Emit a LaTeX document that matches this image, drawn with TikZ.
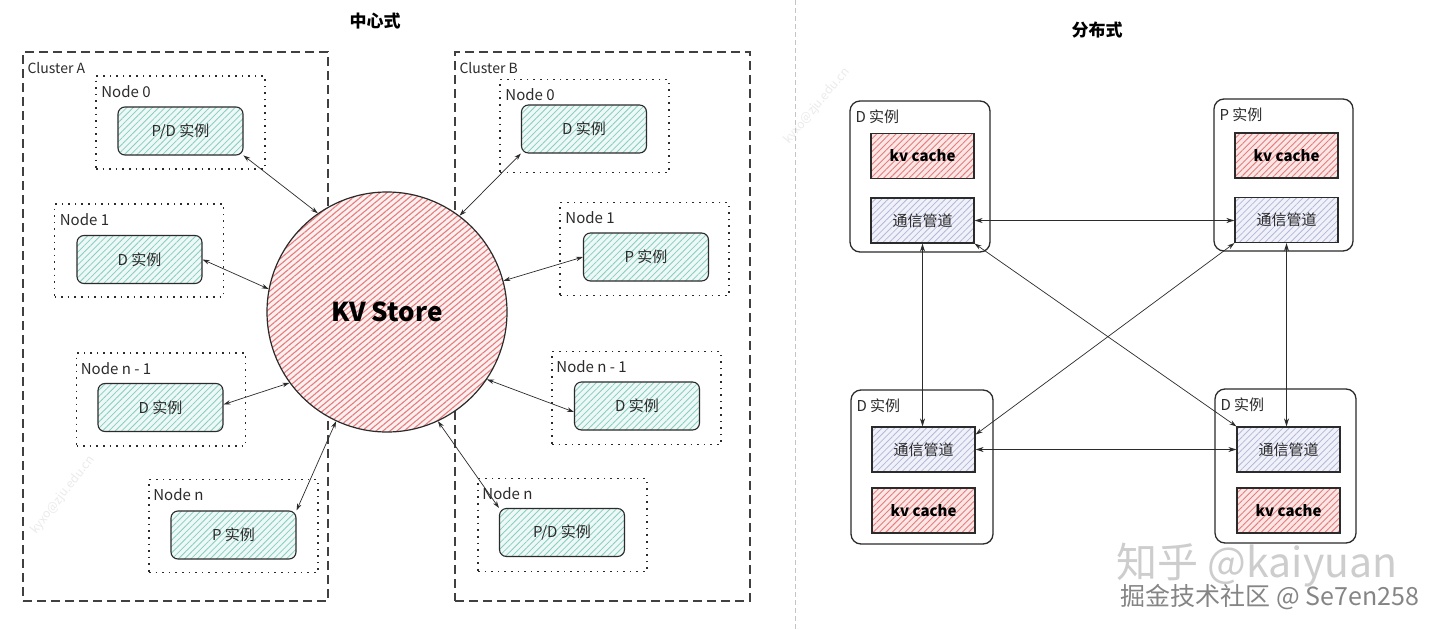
\documentclass[tikz,border=0pt]{standalone}
\usepackage{fontspec}
\setmainfont{Noto Sans CJK SC}
\usetikzlibrary{patterns.meta,arrows.meta}
\definecolor{tealfill}{HTML}{EEF8F6}
\definecolor{tealline}{HTML}{86CFC0}
\definecolor{redfill}{HTML}{FDF0F0}
\definecolor{redline}{HTML}{E67C7C}
\definecolor{kvfill}{HTML}{FBE6E6}
\definecolor{bluefill}{HTML}{F1F2F9}
\definecolor{blueline}{HTML}{B3B8D8}
\definecolor{ink}{HTML}{2B2B2B}
\definecolor{sepgray}{HTML}{C4C4C4}
\definecolor{wmgray}{HTML}{CDCDCD}
\definecolor{wmdark}{HTML}{858585}
\definecolor{faint}{HTML}{EBEBEB}
\begin{document}
\begin{tikzpicture}[x=1pt,y=-1pt,
  every node/.style={font=\fontsize{15}{18}\selectfont, text=ink},
  cluster/.style={draw=ink!90, line width=1.3pt, dash pattern=on 9pt off 5pt},
  nodebox/.style={draw=ink, line width=1.6pt, dash pattern=on 1.6pt off 5pt, minimum width=169pt, minimum height=93pt, inner sep=0},
  inst/.style={draw=ink, line width=1.1pt, rounded corners=7pt, minimum width=125pt, minimum height=48pt, inner sep=0, preaction={fill=tealfill}, pattern={Lines[angle=45,distance=4.5pt,line width=0.8pt]}, pattern color=tealline},
  lbl/.style={anchor=base west, inner sep=0},
  clbl/.style={anchor=base west, inner sep=0, font=\fontsize{14}{17}\selectfont},
  bi/.style={{Stealth[length=7pt,width=4.5pt]}-{Stealth[length=7pt,width=4.5pt]}, line width=0.7pt, draw=ink},
  outerbox/.style={draw=ink, line width=1.3pt, rounded corners=10pt, inner sep=0},
  kvbox/.style={draw=ink, line width=1.2pt, minimum width=103pt, minimum height=45pt, inner sep=0, preaction={fill=kvfill}, pattern={Lines[angle=45,distance=4.5pt,line width=0.9pt]}, pattern color=redline, font=\bfseries\fontsize{15}{18}\selectfont, text=black},
  chbox/.style={draw=ink, line width=1.2pt, minimum width=103pt, minimum height=45pt, inner sep=0, preaction={fill=bluefill}, pattern={Lines[angle=45,distance=4.5pt,line width=0.8pt]}, pattern color=blueline},
  bi2/.style={{Stealth[length=8pt,width=5pt]}-{Stealth[length=8pt,width=5pt]}, line width=0.9pt, draw=ink},
  title/.style={font=\bfseries\fontsize{17}{20}\selectfont, text=black}
]
\useasboundingbox (0,0) rectangle (1440,629);
\fill[white] (0,0) rectangle (1440,629);

% faint watermarks
\node[rotate=52, text=faint, font=\fontsize{12}{14}\selectfont] (wm1) at (63,495) {kyxo@zju.edu.cn};
\node[rotate=50, text=faint, font=\fontsize{12}{14}\selectfont] (wm2) at (817,106) {kyxo@zju.edu.cn};

% separator
\coordinate (st) at (795,0);
\coordinate (sb) at (795,629);
\draw[sepgray, line width=1pt, dash pattern=on 5pt off 3pt] (st) -- (sb);

% titles
\node[title] (t1) at (375,21) {中心式};
\node[title] (t2) at (1097,30) {分布式};

% clusters
\node[cluster, minimum width=305pt, minimum height=549pt, inner sep=0] (ca) at (175.5,326.5) {};
\node[cluster, minimum width=295pt, minimum height=549pt, inner sep=0] (cb) at (602.5,326.5) {};
\node[clbl] (cal) at ([shift={(5,22)}]ca.north west) {Cluster A};
\node[clbl] (cbl) at ([shift={(5,22)}]cb.north west) {Cluster B};

% KV store
\node[circle, draw=ink, line width=1.2pt, minimum size=240pt, inner sep=0,
  preaction={fill=redfill}, pattern={Lines[angle=40,distance=4.5pt,line width=1.1pt]}, pattern color=redline,
  font=\bfseries\fontsize{26}{30}\selectfont, text=black] (kv) at (387,312) {KV Store};

% cluster A nodes
\node[nodebox] (na0) at (180.5,122.5) {};
\node[inst] (ia0) at (180.5,131) {P/D 实例};
\node[lbl] (la0) at ([shift={(6,22)}]na0.north west) {Node 0};

\node[nodebox] (na1) at (139,250.5) {};
\node[inst] (ia1) at (139.5,259.5) {D 实例};
\node[lbl] (la1) at ([shift={(6,22)}]na1.north west) {Node 1};

\node[nodebox] (nan1) at (161,399.5) {};
\node[inst] (ian1) at (160.5,407.5) {D 实例};
\node[lbl] (lan1) at ([shift={(5,22)}]nan1.north west) {Node n - 1};

\node[nodebox] (nan) at (233.5,526) {};
\node[inst] (ian) at (233.5,535) {P 实例};
\node[lbl] (lan) at ([shift={(5,22)}]nan.north west) {Node n};

% cluster B nodes
\node[nodebox] (nb0) at (584.5,126) {};
\node[inst] (ib0) at (584,129) {D 实例};
\node[lbl] (lb0) at ([shift={(6,22)}]nb0.north west) {Node 0};

\node[nodebox] (nb1) at (644.5,249) {};
\node[inst] (ib1) at (646,257) {P 实例};
\node[lbl] (lb1) at ([shift={(6,22)}]nb1.north west) {Node 1};

\node[nodebox] (nbn1) at (636.5,398) {};
\node[inst] (ibn1) at (637,406) {D 实例};
\node[lbl] (lbn1) at ([shift={(5,22)}]nbn1.north west) {Node n - 1};

\node[nodebox] (nbn) at (562.5,525) {};
\node[inst] (ibn) at (562,532.5) {P/D 实例};
\node[lbl] (lbn) at ([shift={(5,22)}]nbn.north west) {Node n};

% connectors to KV store
\draw[bi] (ia0.south east) -- (kv.125);
\draw[bi] (ia1.east) -- (kv.169);
\draw[bi] ([yshift=3pt]ian1.east) -- (kv.216);
\draw[bi] (ian.north east) -- (kv.245);
\draw[bi] (ib0.south west) -- (kv.53);
\draw[bi] (ib1.west) -- (kv.15);
\draw[bi] ([yshift=-6pt]ibn1.west) -- (kv.326);
\draw[bi] (ibn.north west) -- (kv.295);

% distributed
\node[outerbox, minimum width=140pt, minimum height=151pt] (dt) at (920,176.5) {};
\node[outerbox, minimum width=139pt, minimum height=152pt] (pt) at (1283.5,175) {};
\node[outerbox, minimum width=142pt, minimum height=154pt] (db) at (922,467) {};
\node[outerbox, minimum width=141pt, minimum height=154pt] (dr) at (1285.5,466) {};
\node[lbl] (dtl) at ([shift={(6,22)}]dt.north west) {D 实例};
\node[lbl] (ptl) at ([shift={(6,22)}]pt.north west) {P 实例};
\node[lbl] (dbl) at ([shift={(6,22)}]db.north west) {D 实例};
\node[lbl] (drl) at ([shift={(6,22)}]dr.north west) {D 实例};

\node[kvbox] (dtkv) at (922.5,156) {kv cache};
\node[chbox] (dtch) at (922.5,220.5) {通信管道};
\node[kvbox] (ptkv) at (1286.5,155.5) {kv cache};
\node[chbox] (ptch) at (1286.5,220) {通信管道};
\node[chbox] (dbch) at (923.5,449.5) {通信管道};
\node[kvbox] (dbkv) at (923.5,510.5) {kv cache};
\node[chbox] (drch) at (1288.5,449.5) {通信管道};
\node[kvbox] (drkv) at (1288.5,510.5) {kv cache};

\draw[bi2] (dtch.east) -- (dtch.east -| ptch.west);
\draw[bi2] (dbch.east) -- (dbch.east -| drch.west);
\draw[bi2] (dtch.south) -- (dtch.south |- dbch.north);
\draw[bi2] (ptch.south) -- (ptch.south |- drch.north);
\draw[bi] (dtch.south east) -- (drch.north west);
\draw[bi] (ptch.south west) -- (dbch.16);

% watermarks
\node[text=wmgray, font=\fontsize{41}{45}\selectfont] (zh) at (1257,565) {知乎 @kaiyuan};
\node[text=wmdark, font=\fontsize{25}{28}\selectfont] (jj) at (1270,597) {掘金技术社区 @ Se7en258};
\end{tikzpicture}
\end{document}
